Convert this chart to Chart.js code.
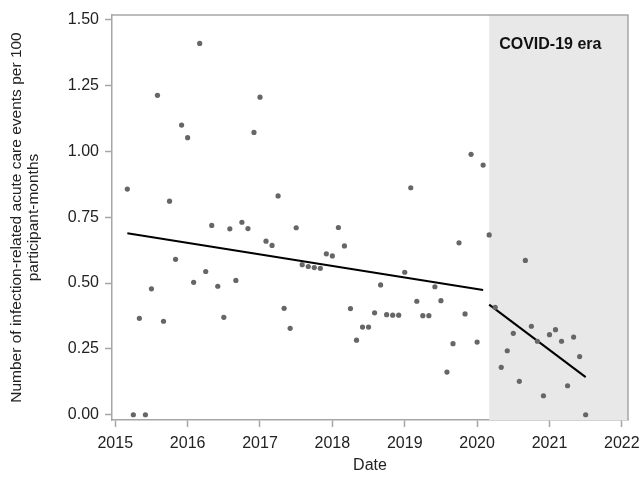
<!DOCTYPE html>
<html>
<head>
<meta charset="utf-8">
<script src="https://cdn.jsdelivr.net/npm/chart.js@4"></script>
<style>
    html, body { margin: 0; padding: 0; background: #fff; }
    #wrap { width: 643px; height: 479px; }
</style>
</head>
<body>
<div id="wrap"><canvas id="grafico"></canvas></div>
<script>
// --- Datos: tasa mensual (eventos por 100 participante-meses), desde marzo 2015 ---
const firstYear  = 2015;
const firstMonth = 3;   // marzo
const rates2015 = [0.857, 0.000, 0.366, 0.000, 0.478, 1.213, 0.355, 0.811, 0.590, 1.100];
const rates2016 = [1.052, 0.503, 1.410, 0.544, 0.719, 0.488, 0.370, 0.706, 0.510, 0.731, 0.707, 1.072];
const rates2017 = [1.206, 0.659, 0.643, 0.831, 0.404, 0.328, 0.710, 0.570, 0.563, 0.559, 0.556, 0.611];
const rates2018 = [0.603, 0.711, 0.641, 0.403, 0.283, 0.333, 0.333, 0.387, 0.493, 0.380, 0.378, 0.378];
const rates2019 = [0.541, 0.862, 0.431, 0.376, 0.376, 0.486, 0.433, 0.162, 0.270, 0.653, 0.383, 0.989];
const rates2020 = [0.276, 0.948, 0.683, 0.408, 0.180, 0.243, 0.309, 0.127, 0.586, 0.336, 0.279, 0.072];
const rates2021 = [0.304, 0.323, 0.279, 0.110, 0.295, 0.221, 0.000];

// Rectas de tendencia (antes / durante COVID): [fecha decimal, valor]
const trendPre   = [[2015.167, 0.689], [2020.083, 0.474]];
const trendCovid = [[2020.167, 0.418], [2021.500, 0.143]];

const covidStart = 2020.167;
const covidLabel = 'COVID-19 era';

const xTicks = [2015, 2016, 2017, 2018, 2019, 2020, 2021, 2022];
const yTicks = [0, 0.25, 0.5, 0.75, 1.0, 1.25, 1.5];

const xTitle = 'Date';
const yTitle = ['Number of infection-related acute care events per 100', 'participant-months'];

// Convierte los meses a fecha decimal (enero = año + 0/12)
const allRates = [].concat(rates2015, rates2016, rates2017, rates2018, rates2019, rates2020, rates2021);
const puntos = allRates.map((v, i) => ({ x: firstYear + (firstMonth - 1 + i) / 12, y: v }));

const GRIS_EJE = '#a6a6a6';
const FUENTE   = "'Liberation Sans', Arial, sans-serif";

// Sombreado de la era COVID + marco del área
const pluginCovid = {
    id: 'covidEra',
    beforeDatasetsDraw(chart) {
        const { ctx, chartArea: a, scales: { x } } = chart;
        const x0 = x.getPixelForValue(covidStart);
        ctx.save();
        ctx.fillStyle = '#e8e8e8';
        ctx.fillRect(x0, a.top, a.right - x0, a.bottom - a.top);
        ctx.fillStyle = '#111';
        ctx.font = 'bold 16px ' + FUENTE;
        ctx.textBaseline = 'middle';
        ctx.fillText(covidLabel, x0 + 10, a.top + 30);
        ctx.restore();
    },
    afterDraw(chart) {
        const { ctx, chartArea: a } = chart;
        ctx.save();
        ctx.strokeStyle = GRIS_EJE;
        ctx.lineWidth = 1.5;
        ctx.beginPath();
        ctx.moveTo(a.left, a.top);
        ctx.lineTo(a.right, a.top);
        ctx.lineTo(a.right, a.bottom);
        ctx.stroke();
        ctx.restore();
    }
};

const tendencia = (pts) => ({
    type: 'line',
    data: pts.map(p => ({ x: p[0], y: p[1] })),
    borderColor: '#000',
    borderWidth: 2,
    pointRadius: 0,
    fill: false
});

new Chart(document.getElementById('grafico'), {
    type: 'scatter',
    data: {
        datasets: [
            { data: puntos, backgroundColor: '#666', borderWidth: 0, pointRadius: 2.6 },
            tendencia(trendPre),
            tendencia(trendCovid)
        ]
    },
    options: {
        responsive: true,
        maintainAspectRatio: false,
        animation: false,
        layout: { padding: { top: 15, right: 15, left: 0, bottom: 0 } },
        plugins: { legend: { display: false }, tooltip: { enabled: false } },
        scales: {
            x: {
                type: 'linear',
                min: 2014.955,
                max: 2022.085,
                afterBuildTicks: s => { s.ticks = xTicks.map(v => ({ value: v })); },
                // alto fijo y sin relleno lateral para que el área quede igual que la referencia
                afterFit: s => { s.height = 59; s.paddingLeft = 0; s.paddingRight = 0; },
                ticks: { color: '#222', font: { family: FUENTE, size: 16 }, padding: 7, callback: v => String(v) },
                grid: { drawOnChartArea: false, tickLength: 7, color: GRIS_EJE, tickWidth: 1.5 },
                border: { color: GRIS_EJE, width: 1.5 },
                title: { display: true, text: xTitle, color: '#222', font: { family: FUENTE, size: 16 }, padding: { top: 8 } }
            },
            y: {
                min: -0.02,
                max: 1.518,
                afterBuildTicks: s => { s.ticks = yTicks.map(v => ({ value: v })); },
                afterFit: s => { s.width = 112; s.paddingTop = 0; s.paddingBottom = 0; },
                ticks: { color: '#222', font: { family: FUENTE, size: 16 }, padding: 6, callback: v => v.toFixed(2) },
                grid: { drawOnChartArea: false, tickLength: 7, color: GRIS_EJE, tickWidth: 1.5 },
                border: { color: GRIS_EJE, width: 1.5 },
                title: { display: true, text: yTitle, color: '#222', font: { family: FUENTE, size: 15.5, lineHeight: 1.1 }, padding: { top: 8 } }
            }
        }
    },
    plugins: [pluginCovid]
});
</script>
</body>
</html>
